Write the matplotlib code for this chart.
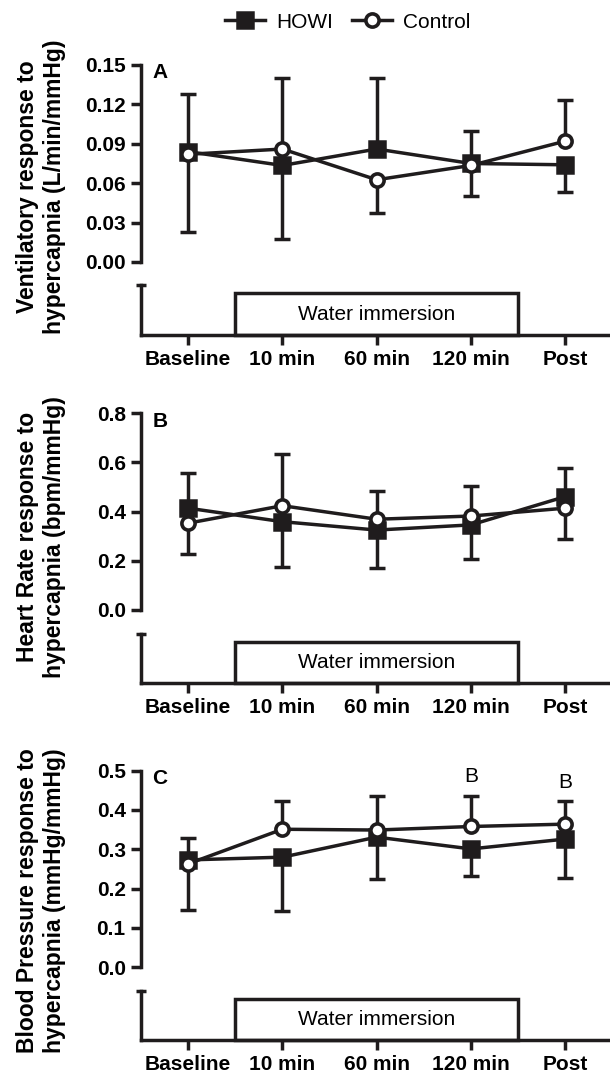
# HOWI vs Control responses to hypercapnia, three panels

import numpy as np
import matplotlib
matplotlib.use("Agg")
import matplotlib.pyplot as plt
from matplotlib.patches import Rectangle

plt.rcParams["font.family"] = ["Liberation Sans", "DejaVu Sans"]

# Time points
times = ["Baseline", "10 min", "60 min", "120 min", "Post"]

# Panel A - ventilatory response (L/min/mmHg)
howi_a = [0.084, 0.0735, 0.086, 0.075, 0.074]
ctrl_a = [0.082, 0.086, 0.0626, 0.0735, 0.092]
howi_a_bar = [0.128, 0.0175, 0.140, 0.100, 0.053]
ctrl_a_bar = [0.023, 0.140, 0.037, 0.050, 0.123]

# Panel B - heart rate response (bpm/mmHg)
howi_b = [0.414, 0.359, 0.325, 0.346, 0.461]
ctrl_b = [0.353, 0.424, 0.369, 0.382, 0.414]
howi_b_bar = [0.556, 0.176, 0.169, 0.206, 0.576]
ctrl_b_bar = [0.226, 0.633, 0.484, 0.504, 0.287]

# Panel C - blood pressure response (mmHg/mmHg)
howi_c = [0.273, 0.280, 0.331, 0.301, 0.326]
ctrl_c = [0.263, 0.351, 0.349, 0.358, 0.364]
howi_c_bar = [0.328, 0.143, 0.224, 0.233, 0.228]
ctrl_c_bar = [0.146, 0.423, 0.436, 0.436, 0.423]

# significance marks in panel C
sig_c_pos = [3, 4]
sig_c_y = [0.484, 0.469]
sig_c_text = ["B", "B"]

panels = [
    ("A", "Ventilatory response to\nhypercapnia (L/min/mmHg)",
     howi_a, ctrl_a, howi_a_bar, ctrl_a_bar,
     [0.00, 0.03, 0.06, 0.09, 0.12, 0.15], "{:.2f}"),
    ("B", "Heart Rate response to\nhypercapnia (bpm/mmHg)",
     howi_b, ctrl_b, howi_b_bar, ctrl_b_bar,
     [0.0, 0.2, 0.4, 0.6, 0.8], "{:.1f}"),
    ("C", "Blood Pressure response to\nhypercapnia (mmHg/mmHg)",
     howi_c, ctrl_c, howi_c_bar, ctrl_c_bar,
     [0.0, 0.1, 0.2, 0.3, 0.4, 0.5], "{:.1f}"),
]

# layout in figure fractions
upper_boxes = [(0.7556, 0.1838), (0.4310, 0.1835), (0.0977, 0.1834)]
lower_boxes = [(0.6875, 0.0466), (0.3629, 0.0457), (0.0299, 0.0460)]
label_y = [1 - 187 / 1072, 1 - 537 / 1072, 1 - 901 / 1072]

LW = 2.5
INK = "#1f1c1d"
left = 141 / 610
x = np.arange(len(times))
xlim = (-0.5, 4.475)

fig = plt.figure(figsize=(6.1, 10.72), dpi=100)

legend_lines = None
for i, (letter, ylabel, howi, ctrl, hbar, cbar, yticks, fmt) in enumerate(panels):
    b, h = upper_boxes[i]
    ax = fig.add_axes([left, b, 1 - left, h])
    ax.set_xlim(*xlim)
    ax.set_ylim(yticks[0], yticks[-1])

    # error bars (one direction per series)
    for mean, bar in [(howi, hbar), (ctrl, cbar)]:
        ax.vlines(x, mean, bar, color=INK, lw=LW, zorder=2)
        ax.plot(x, bar, ls="none", marker="_", ms=11.5, mew=LW,
                color=INK, zorder=2)

    l1, = ax.plot(x, howi, color=INK, lw=LW, marker="s", ms=11,
                  mfc=INK, mec=INK, mew=1.8, zorder=3,
                  label="HOWI", clip_on=False)
    l2, = ax.plot(x, ctrl, color=INK, lw=LW, marker="o", ms=9.5,
                  mfc="white", mec=INK, mew=2.6, zorder=4,
                  label="Control", clip_on=False)
    if legend_lines is None:
        legend_lines = [l1, l2]

    for s in ["top", "right", "bottom"]:
        ax.spines[s].set_visible(False)
    ax.spines["left"].set_linewidth(LW)
    ax.spines["left"].set_color(INK)
    ax.set_xticks([])
    ax.set_yticks(yticks)
    ax.set_yticklabels([fmt.format(t) for t in yticks], fontsize=15,
                       fontweight="bold")
    ax.tick_params(axis="y", length=7, width=LW, pad=4, color=INK)

    ax.text(-0.38, yticks[-1] * 1.008, letter, fontsize=15, fontweight="bold",
            ha="left", va="top")

    if letter == "C":
        for px, py, t in zip(sig_c_pos, sig_c_y, sig_c_text):
            ax.text(px, py, t, fontsize=15, ha="center", va="center")

    # lower axis with the water immersion box
    lb, lh = lower_boxes[i]
    axl = fig.add_axes([left, lb, 1 - left, lh])
    axl.set_xlim(*xlim)
    axl.set_ylim(0, 1)
    for s in ["top", "right"]:
        axl.spines[s].set_visible(False)
    for s in ["left", "bottom"]:
        axl.spines[s].set_linewidth(LW)
        axl.spines[s].set_color(INK)
    axl.set_yticks([1])
    axl.set_yticklabels([""])
    axl.tick_params(axis="y", direction="inout", length=7, width=LW,
                    color=INK)
    axl.set_xticks(x)
    axl.set_xticklabels(times, fontsize=15, fontweight="bold")
    axl.tick_params(axis="x", length=7.5, width=LW, pad=3, color=INK)
    axl.add_patch(Rectangle((0.5, 0), 3.0, 0.84, fill=False, lw=LW,
                            ec=INK, clip_on=False))
    axl.text(2, 0.42, "Water immersion", fontsize=15, ha="center",
             va="center")

    fig.text(41 / 610, label_y[i], ylabel, rotation=90, fontsize=16.5,
             fontweight="bold", ha="center", va="center", linespacing=1.2)

fig.legend(handles=legend_lines, loc="center", ncol=2, frameon=False,
           bbox_to_anchor=(348 / 610, 1 - 22 / 1072), fontsize=15,
           handlelength=1.9, handletextpad=0.55, columnspacing=0.9)

plt.savefig("out.png", dpi=100)
